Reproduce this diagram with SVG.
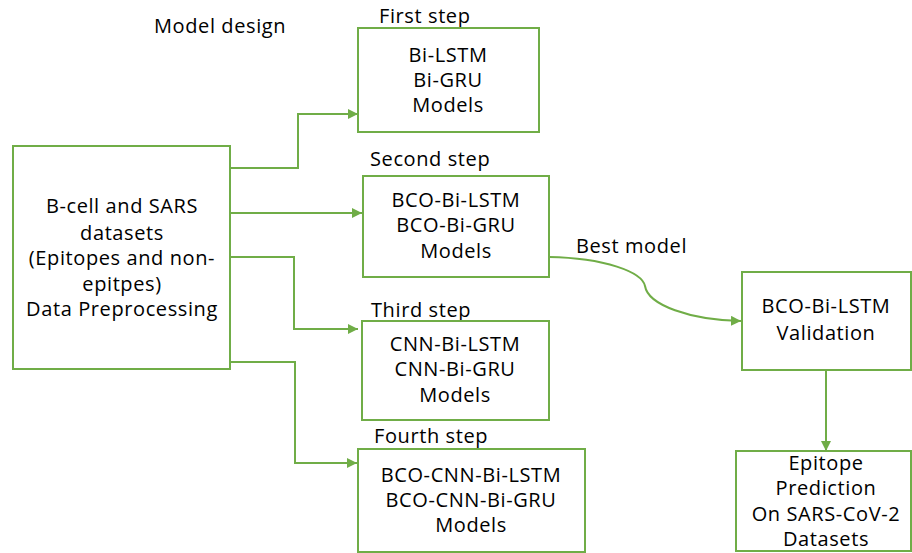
<svg xmlns="http://www.w3.org/2000/svg" width="912" height="553" viewBox="0 0 912 553">
<defs>
<style>
.box{fill:#fff;stroke:#70AD47;stroke-width:2}
.t{font-family:"Open Sans","Liberation Sans",sans-serif;font-size:20px;letter-spacing:0.6px;fill:#000;text-anchor:middle}
.l{font-family:"Open Sans","Liberation Sans",sans-serif;font-size:20px;letter-spacing:0.6px;fill:#000}
.c{fill:none;stroke:#70AD47;stroke-width:2}
</style>
<marker id="ah" viewBox="0 0 10 10" refX="10" refY="5" markerWidth="5" markerHeight="5" orient="auto">
<path d="M0,0 L10,5 L0,10 z" fill="#70AD47"/>
</marker>
</defs>
<rect width="912" height="553" fill="#fff"/>
<text class="l" x="154" y="33">Model design</text>
<g id="connectors">
<path class="c" d="M230,168 H298 V114 H358" marker-end="url(#ah)"/>
<path class="c" d="M230,213 H362" marker-end="url(#ah)"/>
<path class="c" d="M230,257 H294 V329 H358" marker-end="url(#ah)"/>
<path class="c" d="M230,362 H295 V463 H357" marker-end="url(#ah)"/>
<path class="c" d="M549,257 C605,258 642,272 645,286 C648,305 690,320 741,321" marker-end="url(#ah)"/>
<path class="c" d="M826,370 V451" marker-end="url(#ah)"/>
<text class="l" x="576" y="253">Best model</text>
</g>
<g id="input">
<rect class="box" x="13" y="146" width="217" height="223"/>
<text class="t" x="122" y="213">B-cell and SARS</text>
<text class="t" x="122" y="240">datasets</text>
<text class="t" x="122" y="265">(Epitopes and non-</text>
<text class="t" x="122" y="291">epitpes)</text>
<text class="t" x="122" y="316">Data Preprocessing</text>
</g>
<g id="step1">
<text class="l" x="379" y="23">First step</text>
<rect class="box" x="358" y="28" width="181" height="104"/>
<text class="t" x="448" y="62">Bi-LSTM</text>
<text class="t" x="448" y="87">Bi-GRU</text>
<text class="t" x="448" y="112">Models</text>
</g>
<g id="step2">
<text class="l" x="370" y="166">Second step</text>
<rect class="box" x="363" y="176" width="186" height="101"/>
<text class="t" x="456" y="207">BCO-Bi-LSTM</text>
<text class="t" x="456" y="232">BCO-Bi-GRU</text>
<text class="t" x="456" y="258">Models</text>
</g>
<g id="step3">
<text class="l" x="371" y="317">Third step</text>
<rect class="box" x="362" y="321" width="187" height="99"/>
<text class="t" x="455" y="351">CNN-Bi-LSTM</text>
<text class="t" x="455" y="376">CNN-Bi-GRU</text>
<text class="t" x="455" y="402">Models</text>
</g>
<g id="step4">
<text class="l" x="374" y="443">Fourth step</text>
<rect class="box" x="358" y="449" width="227" height="103"/>
<text class="t" x="471" y="482">BCO-CNN-Bi-LSTM</text>
<text class="t" x="471" y="507">BCO-CNN-Bi-GRU</text>
<text class="t" x="471" y="532">Models</text>
</g>
<g id="validation">
<rect class="box" x="742" y="272" width="169" height="98"/>
<text class="t" x="826" y="313">BCO-Bi-LSTM</text>
<text class="t" x="826" y="340">Validation</text>
</g>
<g id="prediction">
<rect class="box" x="736" y="451" width="175" height="100"/>
<text class="t" x="826" y="470">Epitope</text>
<text class="t" x="826" y="495">Prediction</text>
<text class="t" x="826" y="521">On SARS-CoV-2</text>
<text class="t" x="826" y="546">Datasets</text>
</g>
</svg>
